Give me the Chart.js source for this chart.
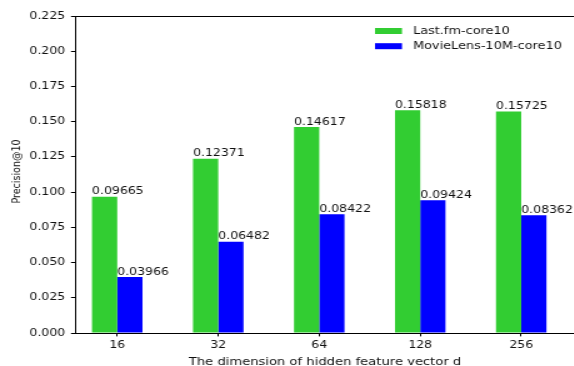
<!DOCTYPE html>
<html>
<head>
<meta charset="utf-8">
<script src="https://cdn.jsdelivr.net/npm/chart.js@4/dist/chart.umd.min.js"></script>
<style>
  html, body { margin: 0; padding: 0; background: #fff; }
  #frame { width: 574px; height: 366px; overflow: hidden; position: relative; }
  #stretch { width: 480px; height: 366px; transform: scaleX(1.25); transform-origin: 0 0; }
  canvas { display: block; }
</style>
</head>
<body>
<div id="frame"><div id="stretch"><canvas id="c" width="480" height="366"></canvas></div></div>
<script>
// Hidden feature vector sizes and Precision@10 for each dataset
const dims = ['16', '32', '64', '128', '256'];
const lastfm = [0.09665, 0.12371, 0.14617, 0.15818, 0.15725];
const movielens = [0.03966, 0.06482, 0.08422, 0.09424, 0.08362];
const yTicks = [0, 0.025, 0.05, 0.075, 0.1, 0.125, 0.15, 0.175, 0.2, 0.225];

const seriesNames = ['Last.fm-core10', 'MovieLens-10M-core10'];
const seriesColors = ['#32cd32', '#0000ff'];
const xTitle = 'The dimension of hidden feature vector d';
const yTitle = 'Precision@10';
const FONT = "'DejaVu Sans', sans-serif";
const INK = '#111';

const toPoints = vals => vals.map((v, i) => ({ x: i, y: v }));

// Spines, axis titles, value labels above bars and the in-plot legend
const extras = {
  id: 'extras',
  afterDatasetsDraw(chart) {
    const { ctx, chartArea } = chart;
    ctx.save();
    // top spine
    ctx.strokeStyle = '#000';
    ctx.lineWidth = 1;
    ctx.beginPath();
    ctx.moveTo(chartArea.left, Math.round(chartArea.top) + 0.5);
    ctx.lineTo(chartArea.right, Math.round(chartArea.top) + 0.5);
    ctx.stroke();

    // value labels, left-aligned with each bar
    ctx.font = '10px ' + FONT;
    ctx.fillStyle = INK;
    ctx.textAlign = 'left';
    ctx.textBaseline = 'alphabetic';
    chart.data.datasets.forEach((ds, di) => {
      const meta = chart.getDatasetMeta(di);
      meta.data.forEach((bar, i) => {
        const left = bar.x - bar.width / 2;
        ctx.fillText(ds.data[i].y.toFixed(5), left, bar.y - 2.5);
      });
    });

    // legend
    ctx.font = '10.3px ' + FONT;
    const lx = 300, tx = 330.4, rows = [31, 46.2];
    chart.data.datasets.forEach((ds, di) => {
      const cy = rows[di];
      ctx.fillStyle = ds.backgroundColor;
      ctx.fillRect(lx, cy - 3, 21.6, 6);
      ctx.fillStyle = INK;
      ctx.textBaseline = 'middle';
      ctx.fillText(ds.label, tx, cy);
    });

    // axis titles
    ctx.fillStyle = INK;
    ctx.textAlign = 'center';
    ctx.textBaseline = 'alphabetic';
    ctx.font = '10.5px ' + FONT;
    ctx.fillText(xTitle, (chartArea.left + chartArea.right) / 2, 365.3);
    ctx.save();
    ctx.translate(13.6, 171.5);
    ctx.rotate(-Math.PI / 2);
    ctx.textBaseline = 'middle';
    ctx.font = '9.5px ' + FONT;
    ctx.fillText(yTitle, 0, 0);
    ctx.restore();
    ctx.restore();
  }
};

new Chart(document.getElementById('c'), {
  type: 'bar',
  data: {
    datasets: [
      { label: seriesNames[0], data: toPoints(lastfm), backgroundColor: seriesColors[0] },
      { label: seriesNames[1], data: toPoints(movielens), backgroundColor: seriesColors[1] }
    ]
  },
  options: {
    responsive: false,
    animation: false,
    devicePixelRatio: 1,
    categoryPercentage: 0.5,
    barPercentage: 1.0,
    layout: { padding: { left: 0, top: 16, right: 20.2, bottom: 0 } },
    plugins: { legend: { display: false }, tooltip: { enabled: false } },
    scales: {
      x: {
        type: 'linear',
        min: -0.416,
        max: 4.53,
        offset: false,
        afterBuildTicks: s => { s.ticks = dims.map((_, i) => ({ value: i })); },
        afterFit: s => { s.height = 33; },
        grid: { display: true, offset: false, drawOnChartArea: false, drawTicks: true, tickLength: 3.4, tickColor: '#000' },
        border: { display: true, color: '#000', width: 1 },
        ticks: {
          autoSkip: false, maxRotation: 0, padding: 2.6, color: INK,
          font: { family: FONT, size: 10 },
          callback: v => dims[v]
        },
        title: { display: false }
      },
      y: {
        min: 0,
        max: 0.225,
        afterBuildTicks: s => { s.ticks = yTicks.map(v => ({ value: v })); },
        afterFit: s => { s.width = 60.2; },
        grid: { display: true, drawOnChartArea: false, drawTicks: true, tickLength: 3.4, tickColor: '#000' },
        border: { display: true, color: '#000', width: 1 },
        ticks: {
          padding: 4.6, color: INK,
          font: { family: FONT, size: 10 },
          callback: v => v.toFixed(3)
        },
        title: { display: false }
      }
    }
  },
  plugins: [extras]
});
</script>
</body>
</html>
